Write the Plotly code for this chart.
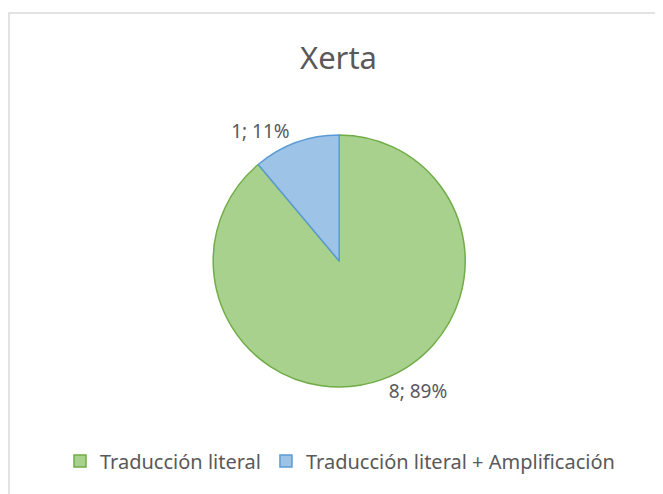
import plotly.graph_objects as go

labels = ["Traducción literal", "Traducción literal + Amplificación"]
values = [8, 1]
fill_colors = ["#A9D18E", "#9DC3E6"]
line_colors = ["#70AD47", "#5B9BD5"]
title_text = "Xerta"

# The page places the figure 8px from the top-left corner (default body margin),
# so the figure is sized to fill the rest of the 663x494 window.
OFF = 8
W, H = 663 - OFF, 494 - OFF
font_family = "Noto Sans"
text_color = "#595959"


def px_x(page_x):
    return (page_x - OFF) / W


def px_y(page_y):
    return 1 - (page_y - OFF) / H


fig = go.Figure(
    go.Pie(
        labels=labels,
        values=values,
        sort=False,
        direction="clockwise",
        rotation=0,
        marker=dict(colors=fill_colors, line=dict(color=line_colors, width=1.5)),
        texttemplate="%{value}; %{percent:.0%}",
        textposition="outside",
        textfont=dict(family=font_family, size=19, color=text_color),
        hoverinfo="label+value+percent",
        domain=dict(x=[px_x(212.7), px_x(465.7)], y=[px_y(387), px_y(135)]),
        showlegend=True,
    )
)

fig.update_layout(
    width=W,
    height=H,
    margin=dict(l=0, r=0, t=0, b=0),
    paper_bgcolor="white",
    plot_bgcolor="white",
    font=dict(family=font_family, color=text_color),
    title=dict(
        text=title_text,
        x=px_x(338.5),
        xanchor="center",
        y=px_y(58),
        yanchor="middle",
        font=dict(family=font_family, size=31, color=text_color),
    ),
    legend=dict(
        orientation="h",
        x=px_x(340),
        xanchor="center",
        y=px_y(461),
        yanchor="middle",
        font=dict(family=font_family, size=20, color=text_color),
        itemwidth=30,
        traceorder="normal",
    ),
    shapes=[
        dict(
            type="rect",
            xref="paper",
            yref="paper",
            x0=1 / W,
            x1=1.05,
            y0=-0.05,
            y1=px_y(13),
            line=dict(color="#D9D9D9", width=1.5),
            fillcolor="rgba(0,0,0,0)",
            layer="below",
        )
    ],
)

fig.write_html("out.html")
